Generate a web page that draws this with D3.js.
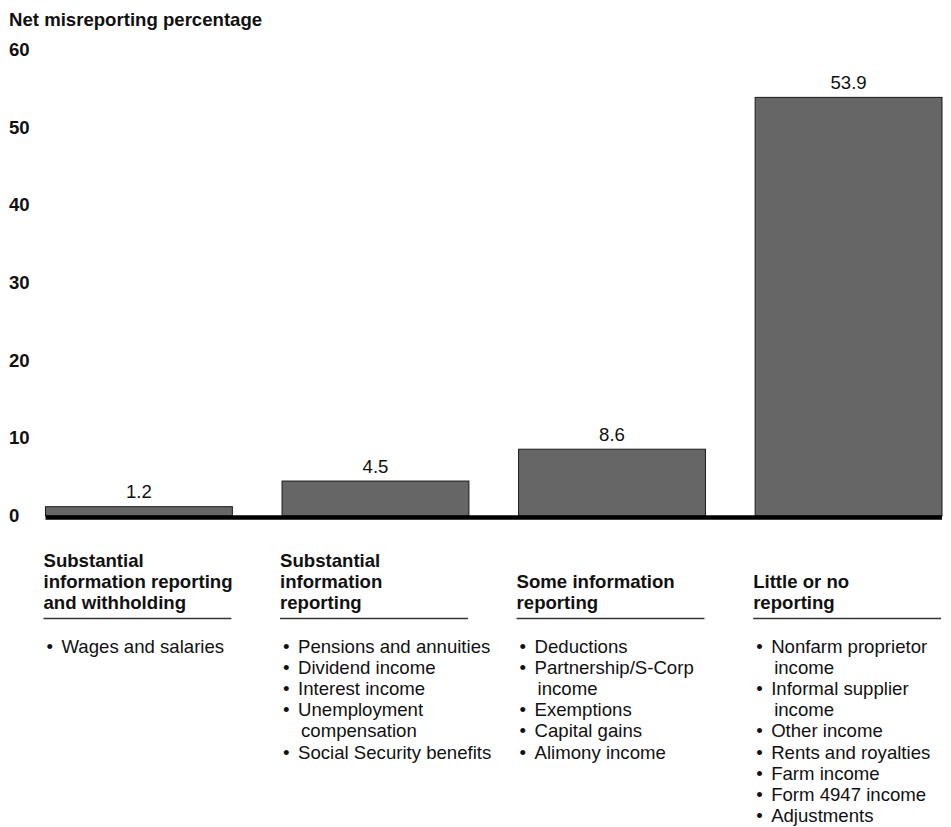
<!DOCTYPE html>
<html>
<head>
<meta charset="utf-8">
<script src="https://cdn.jsdelivr.net/npm/d3@7/dist/d3.min.js"></script>
<style>
  html, body { margin: 0; padding: 0; background: #fff; }
  svg { display: block; font-family: "Liberation Sans", Arial, Helvetica, sans-serif; }
</style>
</head>
<body>
<svg id="chart" width="951" height="827"></svg>
<script>
// ---- Data ----
const categories = ["withholding", "substantial", "some", "little"];
const values = [1.2, 4.5, 8.6, 53.9];
const valueLabels = ["1.2", "4.5", "8.6", "53.9"];
const headings = [
  ["Substantial", "information reporting", "and withholding"],
  ["Substantial", "information", "reporting"],
  ["Some information", "reporting"],
  ["Little or no", "reporting"]
];
const items = [
  [["Wages and salaries"]],
  [["Pensions and annuities"], ["Dividend income"], ["Interest income"], ["Unemployment", "compensation"], ["Social Security benefits"]],
  [["Deductions"], ["Partnership/S-Corp", "income"], ["Exemptions"], ["Capital gains"], ["Alimony income"]],
  [["Nonfarm proprietor", "income"], ["Informal supplier", "income"], ["Other income"], ["Rents and royalties"], ["Farm income"], ["Form 4947 income"], ["Adjustments"]]
];
const yTicks = [0, 10, 20, 30, 40, 50, 60];
const yTitle = "Net misreporting percentage";

// ---- Layout ----
const FS = 18.6;
const svg = d3.select("#chart");
const x = d3.scaleBand().domain(categories).range([45.5, 942]).paddingInner(0.21).paddingOuter(0);
const y = d3.scaleLinear().domain([0, 60]).range([516, 50]);

// title
svg.append("text").attr("x", 9).attr("y", 26)
  .attr("font-size", FS).attr("font-weight", "bold").attr("fill", "#111")
  .text(yTitle);

// y axis tick labels (no line)
const yAxis = d3.axisLeft(y).tickValues(yTicks).tickSize(0).tickPadding(0).tickFormat(d3.format("d"));
const gy = svg.append("g").attr("transform", "translate(9,0)").call(yAxis);
gy.select(".domain").remove();
gy.selectAll("text")
  .attr("text-anchor", "start").attr("x", 0).attr("dy", "0.3em")
  .attr("font-size", FS).attr("font-weight", "bold").attr("fill", "#111")
  .attr("font-family", "'Liberation Sans', Arial, sans-serif");

// bars
svg.append("g").selectAll("rect").data(values).join("rect")
  .attr("x", (d, i) => x(categories[i]))
  .attr("y", d => y(d))
  .attr("width", x.bandwidth())
  .attr("height", d => y(0) - y(d))
  .attr("fill", "#666666").attr("stroke", "#1a1a1a").attr("stroke-width", 1);

// value labels
svg.append("g").selectAll("text").data(values).join("text")
  .attr("x", (d, i) => x(categories[i]) + x.bandwidth() / 2)
  .attr("y", d => y(d) - 8.5)
  .attr("text-anchor", "middle").attr("font-size", FS).attr("fill", "#111")
  .text((d, i) => valueLabels[i]);

// baseline
svg.append("line")
  .attr("x1", x.range()[0]).attr("x2", x.range()[1])
  .attr("y1", y(0) + 1.5).attr("y2", y(0) + 1.5)
  .attr("stroke", "#000").attr("stroke-width", 4.5);

// headings & items
const lineH = 21, itemH = 21.1;
categories.forEach((c, i) => {
  const x0 = x(c);
  const g = svg.append("g");
  const hl = headings[i];
  hl.forEach((t, j) => {
    g.append("text").attr("x", x0 - 2).attr("y", 609 - (hl.length - 1 - j) * lineH)
      .attr("font-size", FS).attr("font-weight", "bold").attr("fill", "#111").text(t);
  });
  g.append("line").attr("x1", x0 - 2).attr("x2", x0 + x.bandwidth() - 1)
    .attr("y1", 618.5).attr("y2", 618.5).attr("stroke", "#333").attr("stroke-width", 1.5);
  let row = 0;
  items[i].forEach(lines => {
    lines.forEach((t, k) => {
      const yy = 653 + row * itemH;
      if (k === 0) {
        g.append("text").attr("x", x0 + 1).attr("y", yy).attr("font-size", FS).attr("fill", "#111").text("•");
        g.append("text").attr("x", x0 + 16).attr("y", yy).attr("font-size", FS).attr("fill", "#111").text(t);
      } else {
        g.append("text").attr("x", x0 + 19).attr("y", yy).attr("font-size", FS).attr("fill", "#111").text(t);
      }
      row++;
    });
  });
});
</script>
</body>
</html>
